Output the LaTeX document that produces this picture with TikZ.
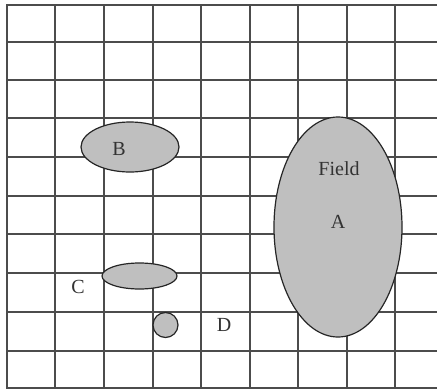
\documentclass[tikz,border=0pt]{standalone}
\usepackage{fontspec}
\setmainfont{Liberation Serif}
\usetikzlibrary{shapes.geometric}
\begin{document}
\begin{tikzpicture}[x=1pt,y=-1pt,
  gridline/.style={draw=black!70,line width=2pt},
  blob/.style={ellipse,draw=black!85,line width=1.2pt,fill=black!25,inner sep=0pt},
  lbl/.style={font=\fontsize{20}{20}\selectfont,text=black!80,inner sep=0pt}]
\useasboundingbox (0,0) rectangle (437,389);
\fill[white] (0,0) rectangle (437,389);
\foreach \xx in {7,55,104,153,201,250,298,347,395}{
  \draw[gridline] (\xx,4) -- (\xx,389);
}
\foreach \yy in {5,42,80,118,157,196,234,273,312,351,388}{
  \draw[gridline] (6,\yy) -- (437,\yy);
}
\node[blob,minimum width=98pt,minimum height=50pt] (B) at (130,147) {};
\node[blob,minimum width=128pt,minimum height=220pt] (A) at (338,227) {};
\node[blob,minimum width=75pt,minimum height=26pt] (C) at (139.5,276) {};
\node[blob,circle,minimum size=25pt] (D) at (165.5,325) {};
\node[lbl] (lB) at (119,149) {B};
\node[lbl] (lField) at (339,169) {Field};
\node[lbl] (lA) at (338,222) {A};
\node[lbl] (lC) at (78,287) {C};
\node[lbl] (lD) at (224,325) {D};
\end{tikzpicture}
\end{document}
